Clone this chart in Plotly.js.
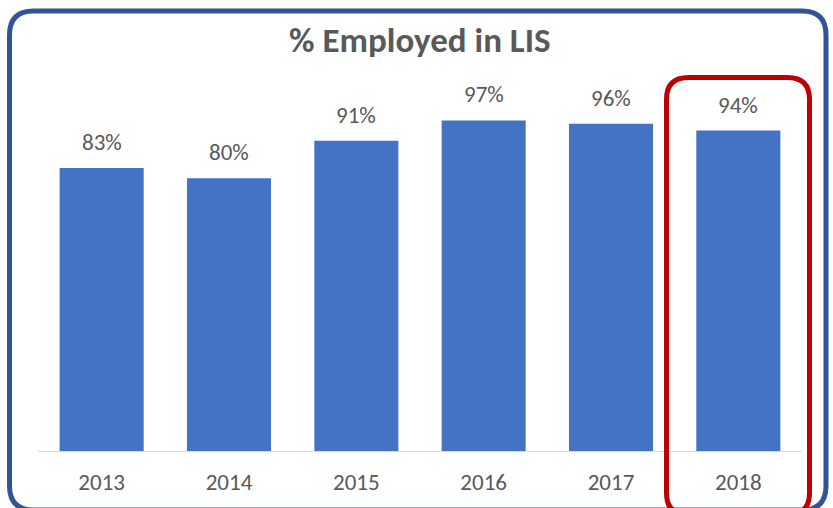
<!DOCTYPE html>
<html><head><meta charset="utf-8">
<script src="https://cdn.plot.ly/plotly-3.0.1.min.js"></script>
<style>html,body{margin:0;padding:0;background:#fff}#c{width:833px;height:508px}</style>
</head><body><div id="c"></div>
<script>
const years = ['2013','2014','2015','2016','2017','2018'];
const pctEmployed = [83, 80, 91, 97, 96, 94];
const labels = pctEmployed.map(v => v + '%');

const W = 833, H = 508;
const mL = 38, mR = 31, mT = 42, mB = 57;
const pw = W - mL - mR, ph = H - mT - mB;
const px = x => (x - mL) / pw;
const py = y => (H - mB - y) / ph;
function roundRect(x0, y0, x1, y1, r) {
  return 'M' + px(x0 + r) + ',' + py(y0) +
    ' L' + px(x1 - r) + ',' + py(y0) +
    ' Q' + px(x1) + ',' + py(y0) + ' ' + px(x1) + ',' + py(y0 + r) +
    ' L' + px(x1) + ',' + py(y1 - r) +
    ' Q' + px(x1) + ',' + py(y1) + ' ' + px(x1 - r) + ',' + py(y1) +
    ' L' + px(x0 + r) + ',' + py(y1) +
    ' Q' + px(x0) + ',' + py(y1) + ' ' + px(x0) + ',' + py(y1 - r) +
    ' L' + px(x0) + ',' + py(y0 + r) +
    ' Q' + px(x0) + ',' + py(y0) + ' ' + px(x0 + r) + ',' + py(y0) + ' Z';
}

const font = "Carlito, Calibri, Lato, 'Open Sans', sans-serif";
const trace = {
  type: 'bar', x: years, y: pctEmployed,
  marker: {color: '#4472C4'},
  hoverinfo: 'skip'
};
const annotations = years.map((yr, i) => ({
  x: i, y: pctEmployed[i], xref: 'x', yref: 'y', text: labels[i],
  showarrow: false, yanchor: 'bottom', yshift: 10,
  font: {size: 23, color: '#595959', family: font}
}));
const layout = {
  width: W, height: H,
  margin: {l: mL, r: mR, t: mT, b: mB},
  paper_bgcolor: '#fff', plot_bgcolor: '#fff',
  bargap: 0.34,
  showlegend: false,
  title: {text: '<b>% Employed in LIS</b>', x: 0.504, xanchor: 'center', y: 0.922, yanchor: 'middle',
          font: {size: 35, color: '#595959', family: font}},
  xaxis: {type: 'category', range: [-0.5, years.length - 0.5], autorange: false,
          showline: true, linecolor: '#D9D9D9', linewidth: 1,
          ticks: 'outside', ticklen: 10, tickcolor: 'rgba(0,0,0,0)',
          tickfont: {size: 23, color: '#595959', family: font}, showgrid: false, zeroline: false},
  yaxis: {range: [0, 120], autorange: false, visible: false, showgrid: false, zeroline: false},
  annotations: annotations,
  shapes: [
    {type: 'path', xref: 'paper', yref: 'paper', path: roundRect(9.5, 11, 826, 510, 24),
     line: {color: '#2F5597', width: 5}, layer: 'above'},
    {type: 'path', xref: 'paper', yref: 'paper', path: roundRect(666.5, 77.5, 809.5, 515, 22),
     line: {color: '#C00000', width: 5}, layer: 'above'}
  ]
};
Plotly.newPlot('c', [trace], layout, {displayModeBar: false, staticPlot: true});
</script></body></html>
